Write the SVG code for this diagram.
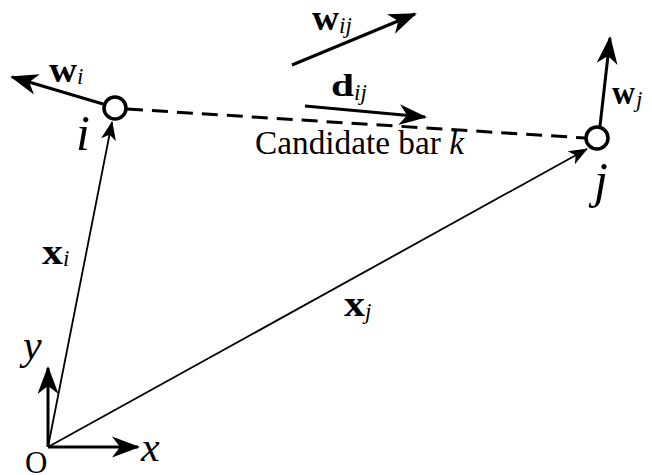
<svg xmlns="http://www.w3.org/2000/svg" width="652" height="475" viewBox="0 0 652 475">
<style>
.thick{stroke:#000;stroke-width:3;fill:none}
.thin{stroke:#000;stroke-width:1.8;fill:none}
.dash{stroke:#000;stroke-width:3;fill:none;stroke-dasharray:16 9}
.node{fill:#fff;stroke:#000;stroke-width:3.5}
.t{font-family:"Liberation Serif","Times New Roman",serif;fill:#000}
.b{font-weight:bold}
.it{font-style:italic}
</style>
<defs>
<marker id="ah" markerUnits="userSpaceOnUse" markerWidth="32" markerHeight="26" viewBox="-28 -13 32 26" refX="0" refY="0" orient="auto">
<path d="M2,0 L-26,-10.5 L-18,0 L-26,10.5 Z" fill="#000"/>
</marker>
<marker id="ahs" markerUnits="userSpaceOnUse" markerWidth="24" markerHeight="20" viewBox="-20 -10 24 20" refX="0" refY="0" orient="auto">
<path d="M1,0 L-18,-7.5 L-13,0 L-18,7.5 Z" fill="#000"/>
</marker>
</defs>
<g id="connectors">
<line class="thick" x1="48" y1="447" x2="138" y2="447" marker-end="url(#ah)"/>
<line class="thick" x1="48" y1="447" x2="48" y2="368" marker-end="url(#ah)"/>
<line class="thin" x1="48" y1="447" x2="112" y2="122" marker-end="url(#ahs)"/>
<line class="thin" x1="48" y1="447" x2="587" y2="149" marker-end="url(#ahs)"/>
<line class="dash" x1="127" y1="109" x2="585" y2="138"/>
<line class="thick" x1="103" y1="104" x2="12" y2="77" marker-end="url(#ah)"/>
<line class="thick" x1="600" y1="126" x2="610" y2="38" marker-end="url(#ah)"/>
<line class="thick" x1="292" y1="65" x2="415" y2="14" marker-end="url(#ah)"/>
<line class="thick" x1="305" y1="106" x2="425" y2="117" marker-end="url(#ah)"/>
</g>
<g id="node-i">
<circle class="node" cx="115" cy="108" r="11"/>
<text class="t it" x="76" y="150" font-size="50">i</text>
</g>
<g id="node-j">
<circle class="node" cx="597" cy="138" r="11"/>
<text class="t it" x="594" y="197" font-size="50">j</text>
</g>
<g id="labels">
<text class="t" x="49" y="82"><tspan class="b" font-size="36" textLength="28" lengthAdjust="spacingAndGlyphs">w</tspan><tspan class="it" font-size="23" dy="2">i</tspan></text>
<text class="t" x="312" y="30"><tspan class="b" font-size="36" textLength="27" lengthAdjust="spacingAndGlyphs">w</tspan><tspan class="it" font-size="23" dy="3">ij</tspan></text>
<text class="t" x="331" y="96"><tspan class="b" font-size="32" textLength="23" lengthAdjust="spacingAndGlyphs">d</tspan><tspan class="it" font-size="23" dy="4">ij</tspan></text>
<text class="t" x="612" y="104"><tspan class="b" font-size="34" textLength="23" lengthAdjust="spacingAndGlyphs">w</tspan><tspan class="it" font-size="23" dx="1" dy="3">j</tspan></text>
<text class="t" x="42" y="264"><tspan class="b" font-size="36" textLength="21" lengthAdjust="spacingAndGlyphs">x</tspan><tspan class="it" font-size="23" dy="2">i</tspan></text>
<text class="t" x="344" y="316"><tspan class="b" font-size="36" textLength="21" lengthAdjust="spacingAndGlyphs">x</tspan><tspan class="it" font-size="23" dy="3">j</tspan></text>
<text class="t" x="255" y="154" font-size="33" textLength="209" lengthAdjust="spacingAndGlyphs">Candidate bar <tspan class="it">k</tspan></text>
<text class="t it" x="23" y="359" font-size="42">y</text>
<text class="t it" x="141" y="461" font-size="42">x</text>
<text class="t" x="25" y="473" font-size="31">O</text>
</g>
</svg>
